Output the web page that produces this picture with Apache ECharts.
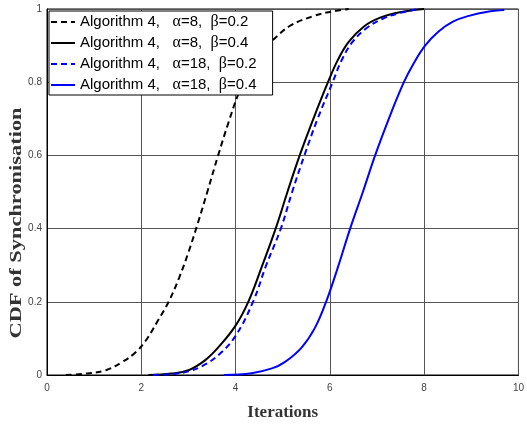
<!DOCTYPE html>
<html>
<head>
<meta charset="utf-8">
<script src="https://cdn.jsdelivr.net/npm/echarts@6/dist/echarts.min.js"></script>
<style>
html, body { margin: 0; padding: 0; background: #fff; }
#main { width: 527px; height: 426px; }
</style>
</head>
<body>
<div id="main"></div>
<script>
// Data: [iterations, CDF]
var a8b02 = [[0.4,0],[0.9,0.005],[1.25,0.013],[1.6,0.036],[1.88,0.062],[2.1,0.095],[2.35,0.148],[2.58,0.2],[2.8,0.265],[3.0,0.335],[3.2,0.415],[3.4,0.5],[3.63,0.6],[3.85,0.69],[4.05,0.765],[4.25,0.825],[4.5,0.875],[4.79,0.915],[5.17,0.955],[5.66,0.981],[6.0,0.992],[6.4,1.0]];
var a8b04 = [[2.15,0],[2.64,0.004],[3.0,0.013],[3.35,0.04],[3.65,0.078],[4.0,0.135],[4.27,0.2],[4.54,0.29],[4.85,0.4],[5.1,0.5],[5.36,0.6],[5.65,0.7],[5.96,0.8],[6.17,0.861],[6.4,0.91],[6.73,0.953],[7.08,0.977],[7.43,0.99],[7.78,0.997],[8.0,1.0]];
var a18b02 = [[2.25,0],[2.7,0.003],[3.0,0.01],[3.3,0.025],[3.65,0.056],[4.0,0.107],[4.37,0.2],[4.65,0.3],[4.96,0.4],[5.2,0.5],[5.46,0.6],[5.74,0.7],[6.06,0.8],[6.25,0.86],[6.48,0.91],[6.78,0.948],[7.1,0.972],[7.45,0.988],[7.9,1.0]];
var a18b04 = [[3.75,0],[4.34,0.005],[4.77,0.018],[5.05,0.036],[5.4,0.075],[5.68,0.128],[5.92,0.2],[6.16,0.29],[6.43,0.4],[6.7,0.5],[6.96,0.6],[7.25,0.7],[7.57,0.8],[7.78,0.852],[8.02,0.9],[8.3,0.938],[8.62,0.966],[8.97,0.982],[9.32,0.992],[9.7,0.997]];

var names = [
	'Algorithm 4,   \u03b1=8,  \u03b2=0.2',
	'Algorithm 4,   \u03b1=8,  \u03b2=0.4',
	'Algorithm 4,   \u03b1=18,  \u03b2=0.2',
	'Algorithm 4,   \u03b1=18,  \u03b2=0.4'
];

var myChart = echarts.init(document.getElementById('main'));

function mkLine(name, data, color, dashed) {
	return {
		name: name,
		type: 'line',
		data: data,
		smooth: 0.4,
		symbol: 'none',
		animation: false,
		lineStyle: {
			color: color,
			width: 2,
			type: dashed ? [6, 4] : 'solid'
		},
		itemStyle: { color: color }
	};
}

var option = {
	backgroundColor: '#fff',
	grid: {
		left: 47,
		right: 5,
		top: 9,
		bottom: 43,
		show: true,
		borderColor: '#000',
		borderWidth: 1
	},
	legend: {
		orient: 'vertical',
		left: 49,
		top: 11,
		itemWidth: 24,
		itemHeight: 14,
		itemGap: 5,
		padding: [3, 16, 2, 1],
		borderColor: '#000',
		borderWidth: 1,
		backgroundColor: '#fff',
		itemStyle: { opacity: 0 },
		data: names,
		formatter: function (n) {
			return n.replace(/([\u03b1\u03b2])/g, '{g|$1}');
		},
		textStyle: {
			color: '#000',
			fontSize: 15,
			lineHeight: 14,
			fontFamily: 'Liberation Sans',
			rich: {
				g: { fontSize: 16, lineHeight: 14, fontFamily: 'Liberation Serif', color: '#000' }
			}
		}
	},
	xAxis: {
		type: 'value',
		min: 0,
		max: 10,
		interval: 2,
		name: 'Iterations',
		nameLocation: 'middle',
		nameGap: 29,
		nameTextStyle: {
			fontFamily: 'Liberation Serif',
			fontWeight: 'bold',
			fontSize: 17,
			color: '#333'
		},
		axisLine: { lineStyle: { color: '#000', width: 1 } },
		axisTick: { show: false },
		axisLabel: { color: '#444', fontSize: 10, margin: 8, fontFamily: 'Liberation Sans' },
		splitLine: { show: true, lineStyle: { color: '#555', width: 1 } }
	},
	yAxis: {
		type: 'value',
		min: 0,
		max: 1,
		interval: 0.2,
		axisLine: { show: true, lineStyle: { color: '#000', width: 1 } },
		axisTick: { show: false },
		axisLabel: { color: '#444', fontSize: 10, margin: 5, fontFamily: 'Liberation Sans' },
		splitLine: { show: true, lineStyle: { color: '#555', width: 1 } }
	},
	graphic: [{
		type: 'text',
		x: 17,
		y: 223,
		rotation: Math.PI / 2,
		scaleX: 1.4,
		style: {
			text: 'CDF of Synchronisation',
			font: 'bold 16px "Liberation Serif"',
			fill: '#333',
			align: 'center',
			verticalAlign: 'middle'
		}
	}],
	series: [
		mkLine(names[0], a8b02, '#000', true),
		mkLine(names[1], a8b04, '#000', false),
		mkLine(names[2], a18b02, '#0000ff', true),
		mkLine(names[3], a18b04, '#0000ff', false)
	]
};

myChart.setOption(option);
</script>
</body>
</html>
